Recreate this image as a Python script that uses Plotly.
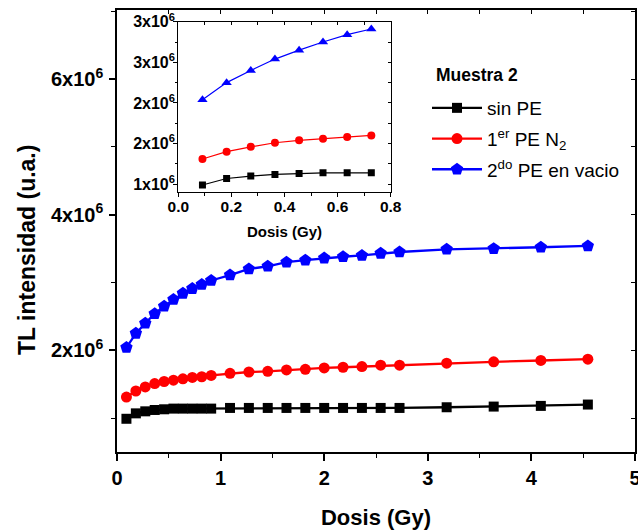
import plotly.graph_objects as go

# ---------------- data ----------------
dose = [0.091, 0.182, 0.273, 0.364, 0.455, 0.545, 0.636, 0.727, 0.818, 0.909,
        1.091, 1.273, 1.455, 1.636, 1.818, 2.000, 2.182, 2.364, 2.545, 2.727,
        3.182, 3.636, 4.091, 4.545]
sin_pe = [0.99e6, 1.07e6, 1.10e6, 1.12e6, 1.13e6, 1.14e6, 1.14e6, 1.14e6, 1.14e6, 1.14e6,
          1.15e6, 1.15e6, 1.15e6, 1.15e6, 1.15e6, 1.15e6, 1.15e6, 1.15e6, 1.15e6, 1.15e6,
          1.16e6, 1.17e6, 1.18e6, 1.20e6]
pe_n2 = [1.31e6, 1.40e6, 1.46e6, 1.51e6, 1.54e6, 1.56e6, 1.58e6, 1.60e6, 1.61e6, 1.63e6,
         1.66e6, 1.68e6, 1.69e6, 1.71e6, 1.72e6, 1.74e6, 1.75e6, 1.76e6, 1.78e6, 1.78e6,
         1.81e6, 1.83e6, 1.85e6, 1.87e6]
pe_vacio = [2.04e6, 2.25e6, 2.40e6, 2.54e6, 2.65e6, 2.75e6, 2.84e6, 2.91e6, 2.97e6, 3.03e6,
            3.11e6, 3.20e6, 3.24e6, 3.30e6, 3.33e6, 3.36e6, 3.38e6, 3.40e6, 3.43e6, 3.45e6,
            3.49e6, 3.50e6, 3.52e6, 3.54e6]

n_inset = 8  # inset shows the first points (0.09 - 0.73 Gy)

series_names = ["sin PE", "1<sup>er</sup> PE N<sub>2</sub>", "2<sup>do</sup> PE en vacio"]
legend_title = "<b>Muestra 2</b>"

main_xticks = [0, 1, 2, 3, 4, 5]
main_xticktext = ["0", "1", "2", "3", "4", "5"]
main_yticks = [2e6, 4e6, 6e6]
main_yticktext = ["2x10<sup>6</sup>", "4x10<sup>6</sup>", "6x10<sup>6</sup>"]
main_yminor = [1e6, 3e6, 5e6, 7e6]

inset_xticks = [0.0, 0.2, 0.4, 0.6, 0.8]
inset_xticktext = ["0.0", "0.2", "0.4", "0.6", "0.8"]
inset_yticks = [1.0e6, 1.5e6, 2.0e6, 2.5e6, 3.0e6]
inset_yticktext = ["1x10<sup>6</sup>", "2x10<sup>6</sup>", "2x10<sup>6</sup>",
                   "3x10<sup>6</sup>", "3x10<sup>6</sup>"]
inset_yminor = [1.25e6, 1.75e6, 2.25e6, 2.75e6]

x_title = "Dosis (Gy)"
y_title = "TL intensidad (u.a.)"

# ---------------- figure ----------------
FONT = "Liberation Sans, Arial, sans-serif"
colors = ["#000000", "#FF0000", "#0000FF"]
main_symbols = ["square", "circle", "pentagon"]
main_sizes = [10, 11, 13]
inset_symbols = ["square", "circle", "triangle-up"]
inset_sizes = [7, 8, 9]
ys = [sin_pe, pe_n2, pe_vacio]
groups = ["g1", "g2", "g3"]

W, H = 638, 530
ML, MR, MT, MB = 117, 3, 10, 78
PW, PH = W - ML - MR, H - MT - MB


def px_x(px):
    return (px - ML) / PW


def px_y(py):
    return (H - MB - py) / PH


fig = go.Figure()

for name, y, c, sym, sz, g in zip(series_names, ys, colors, main_symbols, main_sizes, groups):
    fig.add_trace(go.Scatter(
        x=dose, y=y, mode="lines+markers", name=name, legendgroup=g,
        line=dict(color=c, width=2.3),
        marker=dict(symbol=sym, size=sz, color=c),
        xaxis="x", yaxis="y"))

for y, c, sym, sz in zip(ys, colors, inset_symbols, inset_sizes):
    fig.add_trace(go.Scatter(
        x=dose[:n_inset], y=y[:n_inset], mode="lines+markers",
        line=dict(color=c, width=1.2),
        marker=dict(symbol=sym, size=sz, color=c),
        showlegend=False, xaxis="x2", yaxis="y2"))

# helper invisible traces for inward mirror ticks
fig.add_trace(go.Scatter(x=[None], y=[None], xaxis="x3", yaxis="y3",
                         showlegend=False, hoverinfo="skip"))
fig.add_trace(go.Scatter(x=[None], y=[None], xaxis="x4", yaxis="y4",
                         showlegend=False, hoverinfo="skip"))

axis_common = dict(showgrid=False, zeroline=False, linecolor="black",
                   tickcolor="black", showline=True, automargin=False,
                   ticklabeloverflow="allow")
over_common = dict(showgrid=False, zeroline=False, showline=False,
                   showticklabels=False, tickcolor="black", automargin=False)

main_xrange = [0, 5]
main_yrange = [0.5e6, 7.02e6]
inset_xrange = [0, 0.8]
inset_yrange = [0.9e6, 3.0e6]

ins_dx = [px_x(178.3), px_x(390.7)]
ins_dy = [px_y(192.3), px_y(21.7)]

fig.update_layout(
    width=W, height=H,
    margin=dict(l=ML, r=MR, t=MT, b=MB, autoexpand=False),
    paper_bgcolor="white", plot_bgcolor="white",
    font=dict(family=FONT, color="black"),
    showlegend=True,
    legend=dict(
        x=px_x(427), y=px_y(89), xanchor="left", yanchor="top",
        bgcolor="rgba(0,0,0,0)",
        font=dict(family=FONT, size=19, color="black"),
        itemwidth=50, traceorder="grouped", tracegroupgap=3,
    ),
    xaxis=dict(**axis_common, domain=[0, 1], anchor="y", range=main_xrange,
               linewidth=1.6, mirror=True,
               tickmode="array", tickvals=main_xticks, ticktext=main_xticktext,
               ticks="outside", ticklen=7, tickwidth=1.6,
               tickfont=dict(size=20, weight="bold", family=FONT),
               minor=dict(ticks="outside", ticklen=4, tickwidth=1.3, tickcolor="black",
                          dtick=0.5, tick0=0, showgrid=False),
               title=dict(text=x_title, font=dict(size=22, weight="bold", family=FONT),
                          standoff=22)),
    yaxis=dict(**axis_common, domain=[0, 1], anchor="x", range=main_yrange,
               linewidth=1.6, mirror=True,
               tickmode="array", tickvals=main_yticks, ticktext=main_yticktext,
               ticks="outside", ticklen=6, tickwidth=1.6, ticklabelstandoff=2,
               tickfont=dict(size=20, weight="bold", family=FONT),
               minor=dict(ticks="outside", ticklen=4, tickwidth=1.3, tickcolor="black",
                          tickmode="array", tickvals=main_yminor, showgrid=False)),
    xaxis3=dict(**over_common, overlaying="x", anchor="y3", side="top", range=main_xrange,
                tickmode="linear", tick0=0, dtick=0.5, ticks="inside", ticklen=4,
                tickwidth=1.3),
    yaxis3=dict(**over_common, overlaying="y", anchor="x3", side="right", range=main_yrange,
                tickmode="linear", tick0=0, dtick=1e6, ticks="inside", ticklen=4,
                tickwidth=1.3),
    xaxis2=dict(**axis_common, domain=ins_dx, anchor="y2", range=inset_xrange,
                linewidth=1.2, mirror=True,
                tickmode="array", tickvals=inset_xticks, ticktext=inset_xticktext,
                ticks="outside", ticklen=4, tickwidth=1.2, ticklabelstandoff=-4,
                tickfont=dict(size=15.5, weight="bold", family=FONT),
                minor=dict(ticks="outside", ticklen=2.5, tickwidth=1, tickcolor="black",
                           dtick=0.1, tick0=0, showgrid=False),
                title=dict(text=x_title, font=dict(size=15, weight="bold", family=FONT),
                           standoff=12)),
    yaxis2=dict(**axis_common, domain=ins_dy, anchor="x2", range=inset_yrange,
                linewidth=1.2, mirror=True,
                tickmode="array", tickvals=inset_yticks, ticktext=inset_yticktext,
                ticks="outside", ticklen=4, tickwidth=1.2, ticklabelstandoff=-5,
                tickfont=dict(size=16, weight="bold", family=FONT),
                minor=dict(ticks="outside", ticklen=2.5, tickwidth=1, tickcolor="black",
                           tickmode="array", tickvals=inset_yminor, showgrid=False)),
    xaxis4=dict(**over_common, overlaying="x2", anchor="y4", side="top", range=inset_xrange,
                tickmode="linear", tick0=0, dtick=0.1, ticks="inside", ticklen=3,
                tickwidth=1),
    yaxis4=dict(**over_common, overlaying="y2", anchor="x4", side="right", range=inset_yrange,
                tickmode="linear", tick0=0, dtick=0.25e6, ticks="inside", ticklen=3,
                tickwidth=1),
)

# legend heading
fig.add_annotation(
    text=legend_title, xref="paper", yref="paper",
    x=px_x(434), y=px_y(75), xanchor="left", yanchor="middle",
    showarrow=False, font=dict(size=17.5, family=FONT, color="black"))

# main y-axis title
fig.add_annotation(
    text=y_title, textangle=-90, xref="paper", yref="paper",
    x=px_x(27), y=px_y(250), xanchor="center", yanchor="middle",
    showarrow=False, font=dict(size=23, weight="bold", family=FONT, color="black"))

fig.write_html("out.html")
